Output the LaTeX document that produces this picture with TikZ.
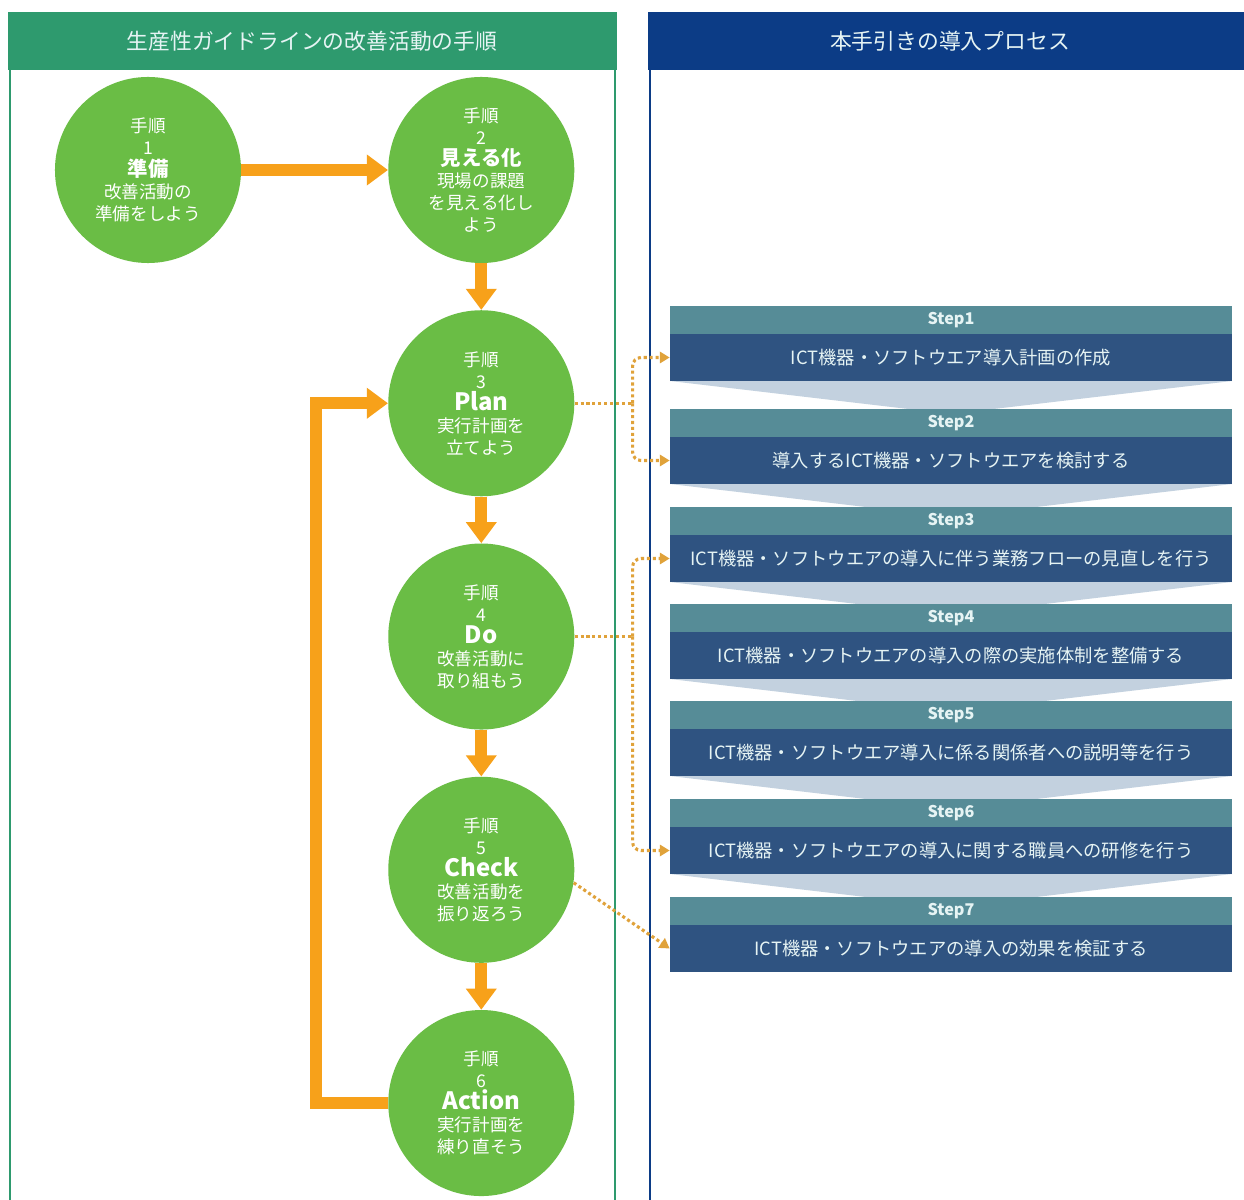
\documentclass[tikz,border=0pt]{standalone}
\usepackage{fontspec}
\setmainfont{Noto Sans CJK JP}
\usetikzlibrary{positioning,arrows.meta}

\definecolor{hdrgreen}{HTML}{2E9A6E}
\definecolor{hdrnavy}{HTML}{0C3C86}
\definecolor{stagegreen}{HTML}{6ABD45}
\definecolor{floworange}{HTML}{F7A11A}
\definecolor{linkorange}{HTML}{E0A23A}
\definecolor{headteal}{HTML}{568C97}
\definecolor{bodyblue}{HTML}{2F5381}
\definecolor{chevblue}{HTML}{C3D1DF}
\definecolor{paletext}{HTML}{E6F4F4}

\begin{document}
\begin{tikzpicture}[
    x=0.025cm, y=-0.025cm,
    node distance=5.83cm,
    stage/.style={circle, fill=stagegreen, minimum size=4.65cm, inner sep=0pt,
      align=center, text=white, font=\fontsize{12.5}{15.6}\selectfont},
    flow/.style={draw=floworange, line width=8.5pt, -{Triangle[length=15pt,width=21pt]}},
    link/.style={draw=linkorange, line width=2.2pt, dotted, rounded corners=6pt},
    linkarrow/.style={link, -{Triangle[length=7pt,width=8pt]}},
    stephead/.style={fill=headteal, text=paletext, minimum width=14.05cm,
      minimum height=0.7cm, inner sep=0pt, font=\bfseries\fontsize{11.5}{13}\selectfont},
    stepbody/.style={fill=bodyblue, text=paletext, minimum width=14.05cm,
      minimum height=1.175cm, inner sep=0pt, font=\fontsize{13}{15}\selectfont},
    ]
    \useasboundingbox (0,0) rectangle (1244,1200);
    \fill[white] (0,0) rectangle (1244,1200);

    % panels
    \fill[hdrgreen] (8,12) rectangle (617,70);
    \node[text=paletext, font=\fontsize{15.5}{18}\selectfont] (lt) at (312,41) {生産性ガイドラインの改善活動の手順};
    \draw[hdrgreen, line width=1.6pt] (10,70) -- (10,1200) (615,70) -- (615,1200);
    \fill[hdrnavy] (648,12) rectangle (1244,70);
    \node[text=paletext, font=\fontsize{15.5}{18}\selectfont] (rt) at (950,41) {本手引きの導入プロセス};
    \draw[hdrnavy, line width=2pt] (650,70) -- (650,1200);

    % improvement cycle
    \node[stage] (a) at (148,170) {手順\\1\\{\bfseries\fontsize{14.5}{15.6}\selectfont 準備}\\改善活動の\\準備をしよう};
    \node[stage, right of=a, node distance=8.33cm] (b) {手順\\2\\{\bfseries\fontsize{14.5}{15.6}\selectfont 見える化}\\現場の課題\\を見える化し\\よう};
    \node[stage, below of=b] (c) {手順\\3\\{\bfseries\fontsize{17}{15.6}\selectfont Plan}\\実行計画を\\立てよう};
    \node[stage, below of=c] (d) {手順\\4\\{\bfseries\fontsize{17}{15.6}\selectfont Do}\\改善活動に\\取り組もう};
    \node[stage, below of=d] (e) {手順\\5\\{\bfseries\fontsize{17}{15.6}\selectfont Check}\\改善活動を\\振り返ろう};
    \node[stage, below of=e] (f) {手順\\6\\{\bfseries\fontsize{17}{15.6}\selectfont Action}\\実行計画を\\練り直そう};

    \draw[flow] (a) -- (b);
    \draw[flow] (b) -- (c);
    \draw[flow] (c) -- (d);
    \draw[flow] (d) -- (e);
    \draw[flow] (e) -- (f);
    \draw[flow] (f.west) -- ++(-72,0) |- (c.west);

    % introduction steps
    \foreach \i/\ytop/\txt in {1/306/ICT機器・ソフトウエア導入計画の作成,
        2/409/導入するICT機器・ソフトウエアを検討する,
        3/507/ICT機器・ソフトウエアの導入に伴う業務フローの見直しを行う,
        4/604/ICT機器・ソフトウエアの導入の際の実施体制を整備する,
        5/701/ICT機器・ソフトウエア導入に係る関係者への説明等を行う,
        6/799/ICT機器・ソフトウエアの導入に関する職員への研修を行う,
        7/897/ICT機器・ソフトウエアの導入の効果を検証する}{
      \ifnum\i<7
        \fill[chevblue] (670,\ytop+75) -- (1232,\ytop+75) -- (951,\ytop+108) -- cycle;
      \fi
      \node[stephead] (h\i) at (951,\ytop+14) {Step\i};
      \node[stepbody] (s\i) at (951,\ytop+51.5) {\txt};
    }

    % dotted links
    \path (c.east) ++(58,0) coordinate (pj);
    \draw[link] (c.east) -- (pj);
    \draw[linkarrow] (pj) |- (s1.west);
    \draw[linkarrow] (pj) |- (s2.west);

    \path (d.east) ++(58,0) coordinate (dj);
    \draw[link] (d.east) -- (dj);
    \draw[linkarrow] (dj) |- (s3.west);
    \draw[linkarrow] (dj) |- (s6.west);

    \draw[linkarrow] (e.-8) -- (s7.west);

  \end{tikzpicture}
\end{document}
